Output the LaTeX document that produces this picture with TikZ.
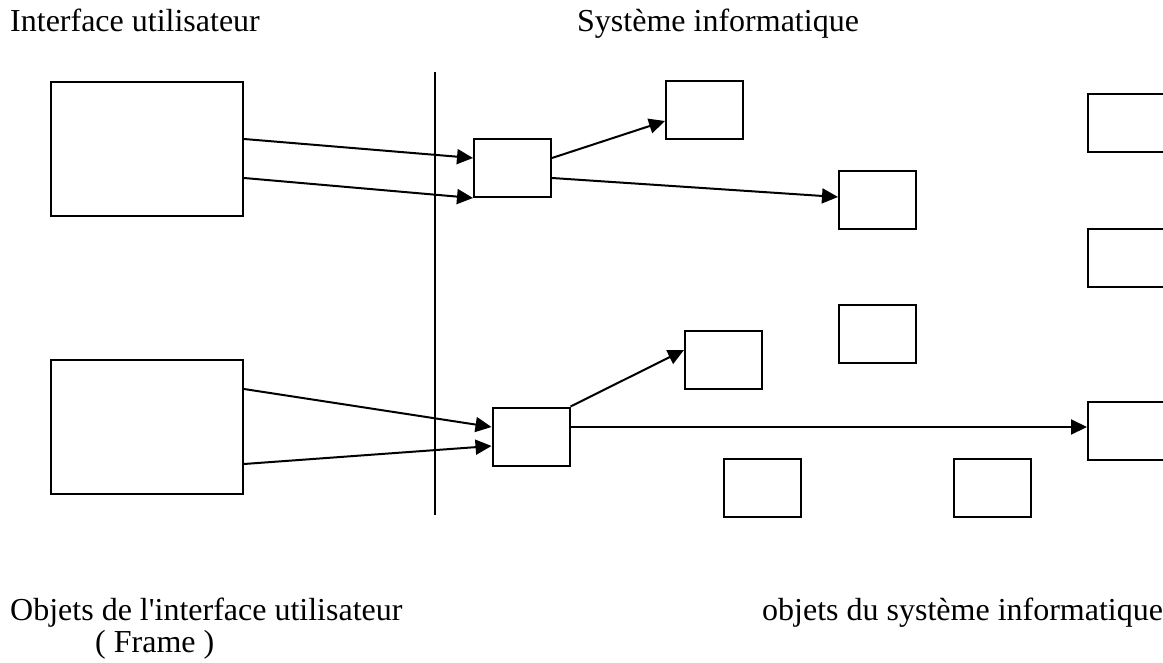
\documentclass[tikz,border=0pt]{standalone}
\usepackage{fontspec}
\setmainfont{Liberation Serif}
\usetikzlibrary{positioning, arrows.meta}
\tikzstyle{bigobj} = [rectangle, minimum width=192pt, minimum height=134pt, draw=black, line width=2pt, inner sep=0pt]
\tikzstyle{obj} = [rectangle, minimum width=77pt, minimum height=58pt, draw=black, line width=2pt, inner sep=0pt]
\tikzstyle{heading} = [anchor=base west, inner sep=0pt, font=\fontsize{32}{38}\selectfont]
\tikzstyle{arrow} = [line width=2pt,->,>={Triangle[length=16pt,width=15pt]}]

\begin{document}
\begin{tikzpicture}[x=1pt, y=-1pt]
\useasboundingbox (0,0) rectangle (1163,663);
\node (title_ui) [heading] at (10,32) {Interface utilisateur};
\node (title_sys) [heading] at (577,32) {Système informatique};
\coordinate (div_top) at (435,72);
\coordinate (div_bot) at (435,515);
\draw [line width=2pt] (div_top) -- (div_bot);

\node (ui_top) [bigobj] at (147,149) {};
\node (ui_bot) [bigobj] at (147,427) {};
\node (ctrl_top) [obj] at (512.5,168) {};
\node (ctrl_bot) [obj] at (531,436.5) {};
\node (obj_b) [obj] at (704.5,110.5) {};
\node (obj_c) [obj] at (877.5,200) {};
\node (obj_d) [obj] at (1126.5,123) {};
\node (obj_e) [obj] at (1126.5,258) {};
\node (obj_f) [obj] at (877.5,334) {};
\node (obj_g) [obj] at (723.5,360) {};
\node (obj_i) [obj] at (1126.5,430.5) {};
\node (obj_j) [obj] at (762,488) {};
\node (obj_k) [obj] at (992.5,488) {};

\draw [arrow] ([yshift=10pt]ui_top.east) -- ([yshift=10pt]ctrl_top.west);
\draw [arrow] ([yshift=-29pt]ui_top.east) -- (ctrl_top.south west);
\draw [arrow] ([yshift=10pt]ctrl_top.east) -- ([yshift=-10.5pt]obj_b.west);
\draw [arrow] ([yshift=-10pt]ctrl_top.east) -- ([yshift=3pt]obj_c.west);
\draw [arrow] ([yshift=38pt]ui_bot.east) -- ([yshift=9.5pt]ctrl_bot.west);
\draw [arrow] ([yshift=-37pt]ui_bot.east) -- ([yshift=-9.5pt]ctrl_bot.west);
\draw [arrow] (ctrl_bot.north east) -- ([yshift=10pt]obj_g.west);
\draw [arrow] ([yshift=9.5pt]ctrl_bot.east) -- ([yshift=3.5pt]obj_i.west);

\node (caption_ui) [heading] at (10,620) {Objets de l\textquotesingle interface utilisateur};
\node (caption_frame) [heading] at (95,652) {( Frame )};
\node (caption_sys) [heading] at (762,620) {objets du système informatique};
\end{tikzpicture}
\end{document}
